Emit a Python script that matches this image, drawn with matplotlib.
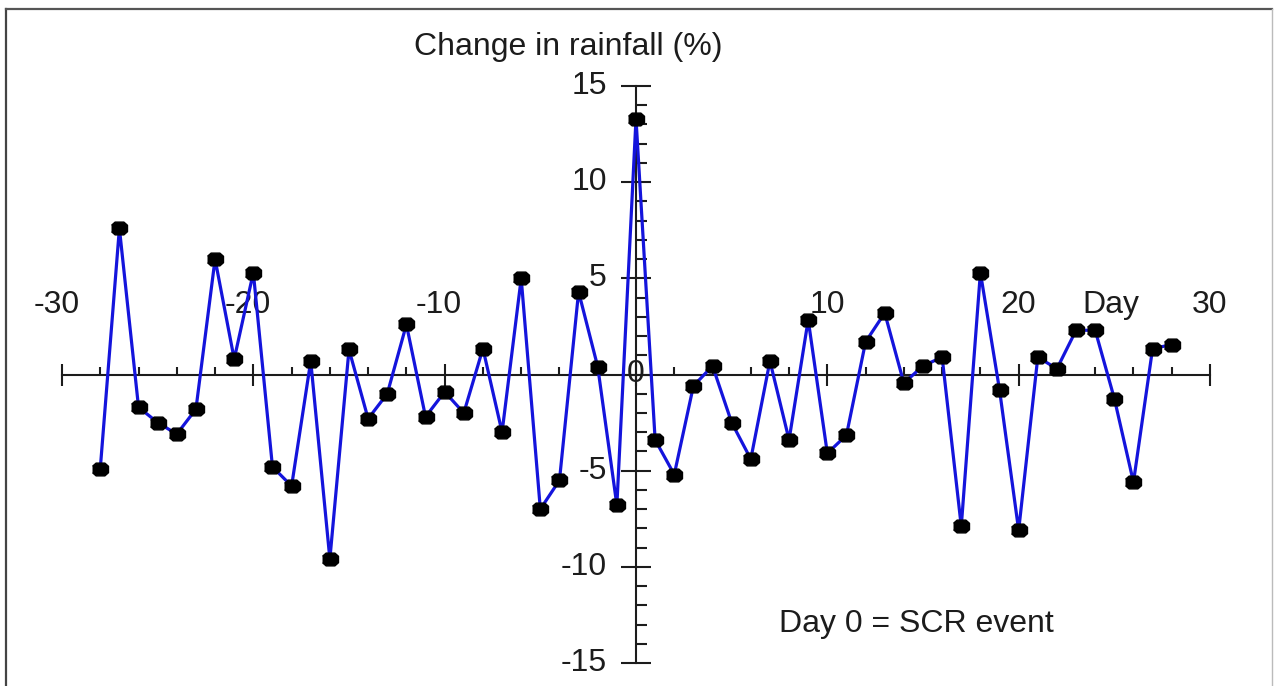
import numpy as np
import matplotlib
matplotlib.use("Agg")
import matplotlib.pyplot as plt
from matplotlib.lines import Line2D
from matplotlib.ticker import MultipleLocator

plt.rcParams["font.family"] = ["Liberation Sans", "DejaVu Sans"]

# days relative to the SCR event, and rainfall change (%)
days = np.arange(-28, 29)
rain_change = [
    -4.9, 7.6, -1.7, -2.5, -3.1, -1.8, 6.0, 0.8, 5.3, -4.8,
    -5.8, 0.7, -9.6, 1.3, -2.3, -1.0, 2.6, -2.2, -0.9, -2.0,
    1.35, -3.0, 5.0, -7.0, -5.5, 4.3, 0.4, -6.8, 13.3, -3.4,
    -5.2, -0.6, 0.45, -2.5, -4.4, 0.7, -3.4, 2.85, -4.1, -3.15,
    1.7, 3.2, -0.45, 0.45, 0.9, -7.9, 5.3, -0.8, -8.1, 0.9,
    0.3, 2.3, 2.3, -1.25, -5.6, 1.35, 1.55,
]
x_labels = [-30, -20, -10, 10, 20, 30]
y_labels = [15, 10, 5, -5, -10, -15]

FS = 23
INK = "#1c1c1c"

W, H = 1274, 686
fig = plt.figure(figsize=(W / 100, H / 100), dpi=100)
fig.patch.set_facecolor("white")
ax = fig.add_axes([62 / W, (H - 663) / H, (1210 - 62) / W, (663 - 86) / H])
ax.set_xlim(-30, 30)
ax.set_ylim(-15, 15)
ax.patch.set_alpha(0)

for s in ["top", "right"]:
    ax.spines[s].set_visible(False)
ax.spines["left"].set_position(("data", 0))
ax.spines["bottom"].set_position(("data", 0))
for s in ["left", "bottom"]:
    ax.spines[s].set_linewidth(1.5)
    ax.spines[s].set_color(INK)

# ticks
ax.xaxis.set_major_locator(MultipleLocator(10))
ax.xaxis.set_minor_locator(MultipleLocator(2))
ax.yaxis.set_major_locator(MultipleLocator(5))
ax.yaxis.set_minor_locator(MultipleLocator(1))
ax.tick_params(axis="x", which="major", direction="inout", length=16, width=1.5,
               color=INK, labelbottom=False)
ax.tick_params(axis="x", which="minor", direction="in", length=6, width=1.5, color=INK)
ax.tick_params(axis="y", which="major", direction="inout", length=21, width=1.5,
               color=INK, labelleft=False)
ax.tick_params(axis="y", which="minor", direction="in", length=8, width=1.5, color=INK)

# tick labels placed like the original (x labels above the axis)
for v in x_labels:
    ax.annotate(str(v), (v, 0), xytext=(-4 if v < 0 else 0, 50), textcoords="offset points",
                ha="center", va="center", fontsize=FS, color=INK)
ax.annotate("0", (0, 0), ha="center", va="center", fontsize=FS, color=INK)
ax.annotate("Day", (24.8, 0), xytext=(0, 50), textcoords="offset points",
            ha="center", va="center", fontsize=FS, color=INK)
for v in y_labels:
    ax.annotate(str(v), (0, v), xytext=(-21, 0), textcoords="offset points",
                ha="right", va="center", fontsize=FS, color=INK)

oct_marker = [(-1, 0.4), (-0.55, 0.8), (0.55, 0.8), (1, 0.4),
              (1, -0.4), (0.55, -0.8), (-0.55, -0.8), (-1, -0.4)]
ax.plot(days, rain_change, color="#1414dc", lw=2.3, zorder=3)
ax.plot(days, rain_change, ls="none", marker=oct_marker, ms=11.5,
        color="black", zorder=4)

fig.text(568 / W, 1 - 47 / H, "Change in rainfall (%)", ha="center", va="center",
         fontsize=FS, color=INK)
fig.text(916 / W, 1 - 624 / H, "Day 0 = SCR event", ha="center", va="center",
         fontsize=FS, color=INK)

# picture frame
fig.add_artist(Line2D([6.5 / W, 6.5 / W], [0, 1 - 8.5 / H], color="#444444", lw=1.6))
fig.add_artist(Line2D([6.5 / W, 1 - 2 / W], [1 - 8.5 / H, 1 - 8.5 / H], color="#555555", lw=1.6))
fig.add_artist(Line2D([1 - 2 / W, 1 - 2 / W], [0, 1 - 8.5 / H], color="#bbbbbb", lw=1.0))

fig.savefig("out.png", dpi=100)
